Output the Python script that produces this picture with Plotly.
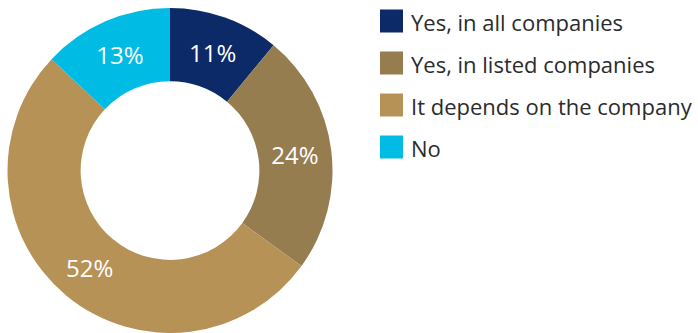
import plotly.graph_objects as go

# Survey answers and their shares (%)
labels = ["Yes, in all companies", "Yes, in listed companies",
          "It depends on the company", "No"]
values = [11, 24, 52, 13]
colors = ["#0C2A68", "#957D50", "#B79257", "#00BCE4"]

W, H = 698, 333
FONT = "Open Sans"

fig = go.Figure(
    go.Pie(
        labels=labels,
        values=values,
        sort=False,
        direction="clockwise",
        rotation=0,
        hole=0.55,
        marker=dict(colors=colors, line=dict(width=0)),
        texttemplate="%{value}%",
        textposition="inside",
        insidetextorientation="horizontal",
        textfont=dict(family=FONT, size=24, color="white"),
        showlegend=False,
        domain=dict(x=[6 / W, 334 / W], y=[0, 1 - 8 / H]),
    )
)

# Legend drawn as square swatches with labels to their right
shapes, annotations = [], []
for i, (lab, col) in enumerate(zip(labels, colors)):
    cy = 21 + 42 * i
    shapes.append(dict(
        type="rect", xref="paper", yref="paper",
        x0=380 / W, x1=403 / W,
        y0=1 - (cy + 11.5) / H, y1=1 - (cy - 11.5) / H,
        fillcolor=col, line=dict(width=0),
    ))
    annotations.append(dict(
        text=lab, xref="paper", yref="paper",
        x=409 / W, y=1 - (cy + 1) / H, xanchor="left", yanchor="middle",
        showarrow=False,
        font=dict(family=FONT, size=22, color="#2b2b2b"),
    ))

fig.update_layout(
    width=W, height=H,
    margin=dict(l=0, r=0, t=0, b=0),
    paper_bgcolor="white", plot_bgcolor="white",
    shapes=shapes, annotations=annotations,
)

fig.write_html("out.html")
